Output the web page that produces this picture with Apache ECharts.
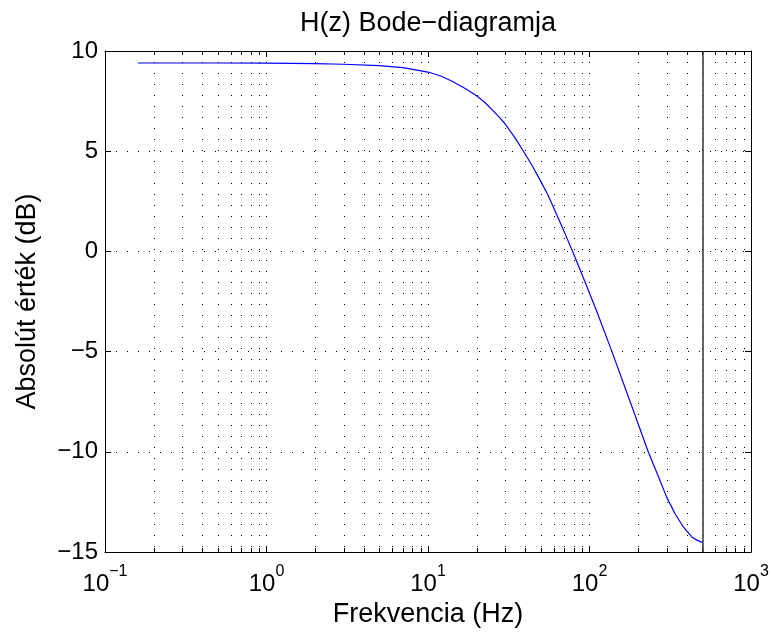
<!DOCTYPE html>
<html>
<head>
<meta charset="utf-8">
<script src="https://cdn.jsdelivr.net/npm/echarts@6/dist/echarts.min.js"></script>
<style>
html,body{margin:0;padding:0;background:#fff;}
#chart{width:772px;height:632px;}
</style>
</head>
<body>
<div id="chart"></div>
<script>
// ---- data ----
var freqHz = [0.16, 0.5, 1, 2, 3, 5, 7, 10, 12, 14, 17, 20, 22.5, 25, 27.5, 30, 35, 39, 44, 49, 55, 60, 70, 80, 92, 111, 137, 174, 200, 231, 265, 300, 338, 381, 430, 465, 500];
var magDb  = [9.40, 9.40, 9.39, 9.37, 9.34, 9.27, 9.17, 8.95, 8.75, 8.50, 8.13, 7.77, 7.43, 7.06, 6.71, 6.37, 5.60, 5.00, 4.30, 3.62, 2.85, 2.18, 0.95, -0.15, -1.35, -3.00, -4.95, -7.25, -8.60, -10.00, -11.17, -12.25, -13.08, -13.75, -14.25, -14.42, -14.52];
var nyquistHz = [500];
var minorGridHz = [0.2,0.3,0.4,0.5,0.6,0.7,0.8,0.9, 2,3,4,5,6,7,8,9, 20,30,40,50,60,70,80,90, 200,300,400,500,600,700,800,900];
var xRange = [0.1, 1000];
var yRange = [-15, 10];
var yStep = 5;
var titleText = 'H(z) Bode\u2212diagramja';
var xName = 'Frekvencia (Hz)';
var yName = 'Absolút érték (dB)';

var FONT = "'Liberation Sans', Arial, Helvetica, sans-serif";
var curve = freqHz.map(function (f, i) { return [f, magDb[i]]; });
var minorData = minorGridHz.map(function (f) { return [f, 0]; });

function expLabel(v) {
  var e = Math.round(Math.log10(v));
  var s = String(e).replace('-', '\u2212');
  return '{b|10}{s|' + s + '}';
}

var chart = echarts.init(document.getElementById('chart'), null, {renderer: 'canvas'});
var option = {
  backgroundColor: '#ffffff',
  animation: false,
  textStyle: {fontFamily: FONT},
  grid: {left: 105, right: 21, top: 51, bottom: 80, show: false, containLabel: false, outerBoundsMode: 'none'},
  xAxis: [{
    type: 'log', logBase: 10, min: xRange[0], max: xRange[1],
    position: 'bottom',
    name: xName, nameLocation: 'middle', nameGap: 44,
    nameTextStyle: {fontSize: 27, color: '#000', fontFamily: FONT},
    axisLine: {show: true, onZero: false, lineStyle: {color: '#000', width: 1}},
    axisTick: {show: true, inside: true, length: 6, lineStyle: {color: '#000'}},
    minorTick: {show: false},
    axisLabel: {
      margin: 12, color: '#000', formatter: expLabel,
      rich: {
        b: {fontSize: 24, fontFamily: FONT, color: '#000', lineHeight: 32, verticalAlign: 'bottom'},
        s: {fontSize: 16, fontFamily: FONT, color: '#000', lineHeight: 16, verticalAlign: 'top'}
      }
    },
    splitLine: {show: true, lineStyle: {color: '#000', width: 1, type: [1, 10]}}
  }, {
    type: 'log', logBase: 10, min: xRange[0], max: xRange[1],
    position: 'top',
    name: titleText, nameLocation: 'middle', nameGap: 14,
    nameTextStyle: {fontSize: 27, color: '#000', fontFamily: FONT},
    axisLine: {show: true, onZero: false, lineStyle: {color: '#000', width: 1}},
    axisTick: {show: true, inside: true, length: 6, lineStyle: {color: '#000'}},
    axisLabel: {show: false},
    splitLine: {show: false}
  }],
  yAxis: [{
    type: 'value', min: yRange[0], max: yRange[1], interval: yStep,
    position: 'left',
    name: yName, nameLocation: 'middle', nameGap: 64, nameRotate: 90,
    nameTextStyle: {fontSize: 27, color: '#000', fontFamily: FONT},
    axisLine: {show: true, onZero: false, lineStyle: {color: '#000', width: 1}},
    axisTick: {show: true, inside: true, length: 6, lineStyle: {color: '#000'}},
    axisLabel: {
      margin: 7, color: '#000', fontSize: 24, fontFamily: FONT,
      formatter: function (v) { return String(v).replace('-', '\u2212'); }
    },
    splitLine: {show: true, lineStyle: {color: '#000', width: 1, type: [1, 10]}}
  }, {
    type: 'value', min: yRange[0], max: yRange[1], interval: yStep,
    position: 'right',
    axisLine: {show: true, onZero: false, lineStyle: {color: '#000', width: 1}},
    axisTick: {show: true, inside: true, length: 6, lineStyle: {color: '#000'}},
    axisLabel: {show: false},
    splitLine: {show: false}
  }],
  series: [{
    type: 'custom',
    name: 'minor',
    silent: true,
    xAxisIndex: 0, yAxisIndex: 0,
    z: 1,
    data: minorData,
    encode: {x: 0, y: 1},
    renderItem: function (params, api) {
      var x = Math.round(api.coord([api.value(0), 0])[0]) + 0.5;
      var cs = params.coordSys;
      var top = cs.y, bot = cs.y + cs.height;
      return {
        type: 'group',
        children: [
          {type: 'line', shape: {x1: x, y1: top, x2: x, y2: bot},
           style: {stroke: '#000', lineWidth: 1, lineDash: [1, 10]}},
          {type: 'line', shape: {x1: x, y1: bot, x2: x, y2: bot - 4},
           style: {stroke: '#000', lineWidth: 1}},
          {type: 'line', shape: {x1: x, y1: top, x2: x, y2: top + 4},
           style: {stroke: '#000', lineWidth: 1}}
        ]
      };
    }
  }, {
    type: 'line',
    name: 'H',
    xAxisIndex: 0, yAxisIndex: 0,
    data: curve,
    showSymbol: false, symbol: 'none',
    smooth: false,
    z: 5,
    lineStyle: {color: '#0000ff', width: 1.2},
    markLine: {
      silent: true,
      symbol: ['none', 'none'],
      label: {show: false},
      lineStyle: {color: '#333', width: 1.5, type: 'solid'},
      data: nyquistHz.map(function (f) { return {xAxis: f}; })
    }
  }]
};
chart.setOption(option);
</script>
</body>
</html>
